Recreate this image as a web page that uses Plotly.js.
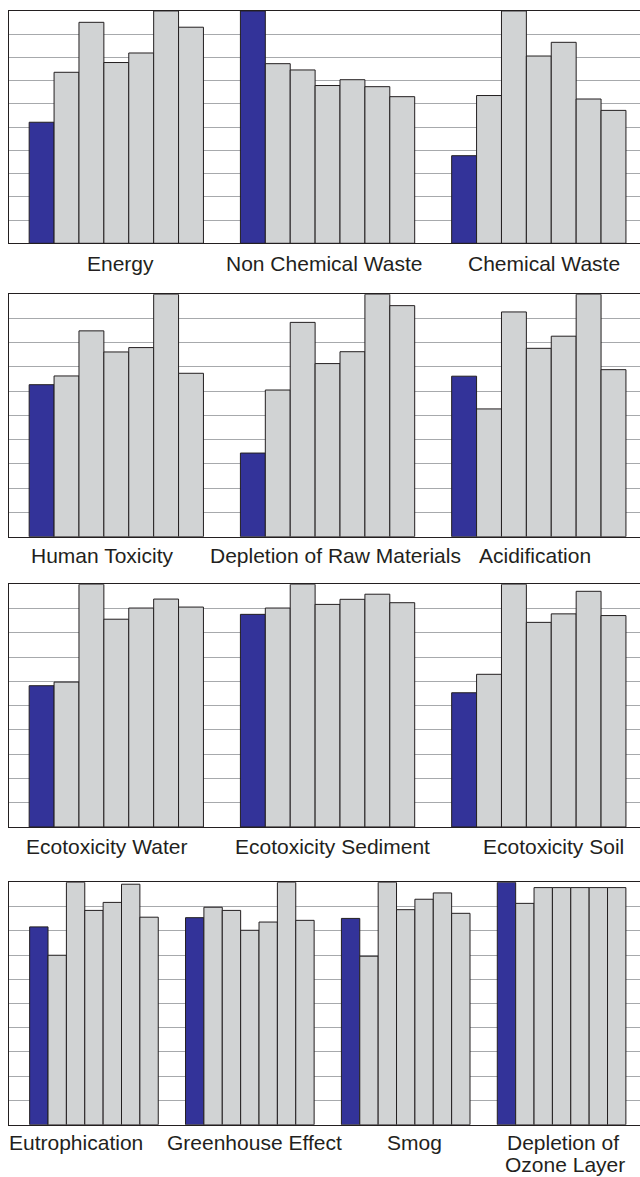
<!DOCTYPE html>
<html>
<head>
<meta charset="utf-8">
<script src="https://cdn.plot.ly/plotly-3.0.1.min.js"></script>
<style>html,body{margin:0;padding:0;background:#fff;}#chart{width:640px;height:1177px;}</style>
</head>
<body>
<div id="chart"></div>
<script>
// ---- data (relative scores, 0-10 scale; first bar of each group = blue reference) ----
const panel1Labels = ["Energy", "Non Chemical Waste", "Chemical Waste"];
const panel2Labels = ["Human Toxicity", "Depletion of Raw Materials", "Acidification"];
const panel3Labels = ["Ecotoxicity Water", "Ecotoxicity Sediment", "Ecotoxicity Soil"];
const panel4Labels = ["Eutrophication", "Greenhouse Effect", "Smog", "Depletion of<br>Ozone Layer"];

const energy            = [5.21, 7.36, 9.51, 7.78, 8.19, 10.0, 9.30];
const nonChemicalWaste  = [10.0, 7.73, 7.46, 6.79, 7.04, 6.74, 6.31];
const chemicalWaste     = [3.77, 6.36, 10.0, 8.06, 8.65, 6.21, 5.72];

const humanToxicity     = [6.27, 6.63, 8.49, 7.62, 7.80, 10.0, 6.74];
const depletionRaw      = [3.45, 6.05, 8.84, 7.14, 7.63, 10.0, 9.53];
const acidification     = [6.62, 5.27, 9.27, 7.77, 8.27, 10.0, 6.89];

const ecoWater          = [5.82, 5.97, 10.0, 8.56, 9.02, 9.39, 9.06];
const ecoSediment       = [8.76, 9.02, 10.0, 9.17, 9.38, 9.59, 9.24];
const ecoSoil           = [5.53, 6.29, 10.0, 8.43, 8.78, 9.71, 8.71];

const eutrophication    = [8.16, 6.99, 10.0, 8.84, 9.17, 9.92, 8.56];
const greenhouse        = [8.54, 8.97, 8.84, 8.02, 8.36, 10.0, 8.43];
const smog              = [8.51, 6.95, 10.0, 8.87, 9.30, 9.56, 8.72];
const ozoneDepletion    = [10.0, 9.13, 9.78, 9.78, 9.78, 9.78, 9.78];

// ---- layout config ----
const panels = [
  {labels: panel1Labels, groups: [energy, nonChemicalWaste, chemicalWaste],
   domain: [0.7933, 0.9907], range: [-0.508, 2.479], labelShift: [4, -4, 5], labelY: -8},
  {labels: panel2Labels, groups: [humanToxicity, depletionRaw, acidification],
   domain: [0.5440, 0.7500], range: [-0.508, 2.479], labelShift: [-14, 8, -4], labelY: -6},
  {labels: panel3Labels, groups: [ecoWater, ecoSediment, ecoSoil],
   domain: [0.2974, 0.5036], range: [-0.508, 2.479], labelShift: [-10, 5, 15], labelY: -7},
  {labels: panel4Labels, groups: [eutrophication, greenhouse, smog, ozoneDepletion],
   domain: [0.0444, 0.2504], range: [-0.545, 3.503], labelShift: [-18, 5, 9, 1], labelY: -5}
];
const LINE_STEP = 22.5;

const BLUE = "#333399";
const GREY = "#d1d3d4";
const EDGE = "#231f20";
const GRID = "#a7a9ac";

const traces = [];
const layout = {
  width: 640, height: 1177,
  margin: {l: 0, r: 0, t: 0, b: 0},
  paper_bgcolor: "#fff", plot_bgcolor: "#fff",
  barmode: "group", bargap: 0.175, bargroupgap: 0,
  showlegend: false,
  font: {family: "Liberation Sans, Arial, Helvetica, sans-serif", color: EDGE},
  annotations: []
};

panels.forEach((p, pi) => {
  const n = pi + 1;
  const xa = "x" + (n === 1 ? "" : n);
  const ya = "y" + (n === 1 ? "" : n);
  const idx = p.labels.map((_, i) => i);
  for (let k = 0; k < 7; k++) {
    traces.push({
      type: "bar",
      x: idx,
      y: p.groups.map(g => g[k]),
      xaxis: xa, yaxis: ya,
      marker: {color: k === 0 ? BLUE : GREY, line: {color: EDGE, width: 1}},
      hoverinfo: "y"
    });
  }
  layout["xaxis" + (n === 1 ? "" : n)] = {
    domain: [9 / 640, 1], anchor: ya, range: p.range,
    showticklabels: false, ticks: "", showgrid: false, zeroline: false,
    showline: true, mirror: true, linecolor: EDGE, linewidth: 1, fixedrange: true
  };
  layout["yaxis" + (n === 1 ? "" : n)] = {
    domain: p.domain, anchor: xa, range: [0, 10], dtick: 1,
    showticklabels: false, ticks: "", showgrid: true, gridcolor: GRID, gridwidth: 1,
    zeroline: false, showline: true, linecolor: EDGE, linewidth: 1, fixedrange: true
  };
  p.labels.forEach((lab, i) => {
    lab.split("<br>").forEach((line, j) => {
      layout.annotations.push({
        text: line, x: i, y: 0, xref: xa, yref: ya + " domain",
        xanchor: "center", yanchor: "top", borderpad: 0,
        yshift: p.labelY - j * LINE_STEP, xshift: p.labelShift[i] + (j ? 2 : 0),
        showarrow: false, font: {size: 21, color: EDGE}, align: "center"
      });
    });
  });
});

Plotly.newPlot("chart", traces, layout, {staticPlot: true});
</script>
</body>
</html>
